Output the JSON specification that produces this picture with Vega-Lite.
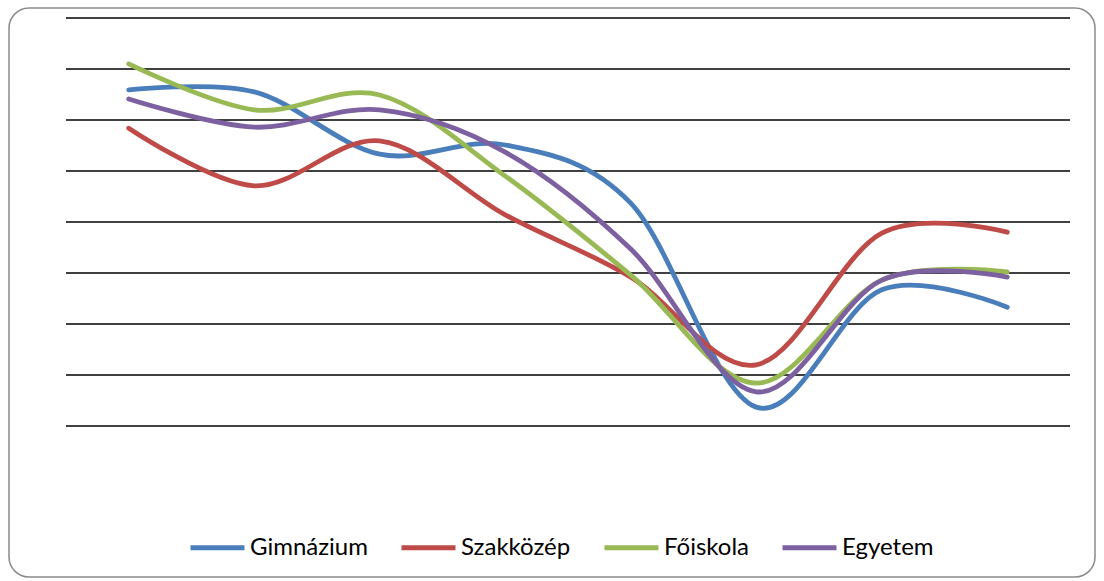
{
  "$schema": "https://vega.github.io/schema/vega-lite/v6.json",
  "width": 1086,
  "height": 569,
  "autosize": {"type": "none"},
  "padding": {"left": 9, "top": 8, "right": 9, "bottom": 4},
  "background": "white",
  "config": {
    "view": {"stroke": "#8a8a8a", "strokeWidth": 1.5, "cornerRadius": 20}
  },
  "datasets": {
    "grid": [
      {"g": 0}, {"g": 1}, {"g": 2}, {"g": 3}, {"g": 4}, {"g": 5}, {"g": 6}, {"g": 7}, {"g": 8}
    ],
    "series": [
      {"s": "Gimnázium", "i": 1, "v": 6.59},
      {"s": "Gimnázium", "i": 2, "v": 6.55},
      {"s": "Gimnázium", "i": 3, "v": 5.33},
      {"s": "Gimnázium", "i": 4, "v": 5.51},
      {"s": "Gimnázium", "i": 5, "v": 4.37},
      {"s": "Gimnázium", "i": 6, "v": 0.37},
      {"s": "Gimnázium", "i": 7, "v": 2.67},
      {"s": "Gimnázium", "i": 8, "v": 2.33},
      {"s": "Szakközép", "i": 1, "v": 5.84},
      {"s": "Szakközép", "i": 2, "v": 4.71},
      {"s": "Szakközép", "i": 3, "v": 5.59},
      {"s": "Szakközép", "i": 4, "v": 4.14},
      {"s": "Szakközép", "i": 5, "v": 2.92},
      {"s": "Szakközép", "i": 6, "v": 1.20},
      {"s": "Szakközép", "i": 7, "v": 3.78},
      {"s": "Szakközép", "i": 8, "v": 3.80},
      {"s": "Főiskola", "i": 1, "v": 7.10},
      {"s": "Főiskola", "i": 2, "v": 6.20},
      {"s": "Főiskola", "i": 3, "v": 6.49},
      {"s": "Főiskola", "i": 4, "v": 4.90},
      {"s": "Főiskola", "i": 5, "v": 2.96},
      {"s": "Főiskola", "i": 6, "v": 0.84},
      {"s": "Főiskola", "i": 7, "v": 2.86},
      {"s": "Főiskola", "i": 8, "v": 3.02},
      {"s": "Egyetem", "i": 1, "v": 6.41},
      {"s": "Egyetem", "i": 2, "v": 5.86},
      {"s": "Egyetem", "i": 3, "v": 6.20},
      {"s": "Egyetem", "i": 4, "v": 5.37},
      {"s": "Egyetem", "i": 5, "v": 3.47},
      {"s": "Egyetem", "i": 6, "v": 0.67},
      {"s": "Egyetem", "i": 7, "v": 2.86},
      {"s": "Egyetem", "i": 8, "v": 2.92}
    ]
  },
  "layer": [
    {
      "data": {"name": "grid"},
      "mark": {"type": "rule", "color": "#000", "strokeWidth": 1.6},
      "encoding": {
        "x": {"datum": 0.5, "type": "quantitative", "scale": {"domain": [0.046, 8.699], "nice": false, "zero": false}, "axis": null},
        "x2": {"datum": 8.5},
        "y": {"field": "g", "type": "quantitative", "scale": {"domain": [-2.961, 8.196], "nice": false, "zero": false}, "axis": null}
      }
    },
    {
      "data": {"name": "series"},
      "mark": {"type": "line", "interpolate": "cardinal", "strokeWidth": 4.8, "strokeCap": "round"},
      "encoding": {
        "x": {"field": "i", "type": "quantitative", "axis": null},
        "y": {"field": "v", "type": "quantitative", "axis": null},
        "color": {
          "field": "s",
          "type": "nominal",
          "scale": {
            "domain": ["Gimnázium", "Szakközép", "Főiskola", "Egyetem"],
            "range": ["#4A7EBB", "#BE4B48", "#98B954", "#7D60A0"]
          },
          "legend": {
            "title": null,
            "orient": "none",
            "legendX": 179,
            "legendY": 510,
            "direction": "horizontal",
            "padding": 0,
            "symbolType": "stroke",
            "symbolSize": 2916,
            "symbolStrokeWidth": 5,
            "labelFont": "Lato",
            "labelFontSize": 24,
            "labelColor": "#000",
            "labelOffset": 3,
            "columnPadding": 23
          }
        }
      }
    }
  ]
}
